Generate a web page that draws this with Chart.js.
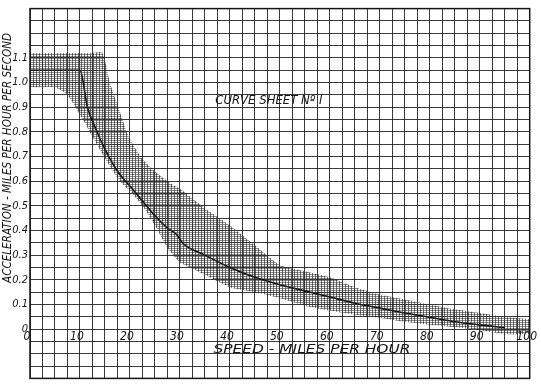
<!DOCTYPE html>
<html>
<head>
<meta charset="utf-8">
<script src="https://cdn.jsdelivr.net/npm/chart.js@4"></script>
<style>
  html, body { margin: 0; padding: 0; background: #fff; }
  #wrap { width: 541px; height: 387px; }
</style>
</head>
<body>
<div id="wrap"><canvas id="curveSheet" width="541" height="387"></canvas></div>
<script>
/* Curve sheet No. I - acceleration vs speed */

// main curve
const curveSpeed = [0, 10, 11.5, 13, 15, 17.5, 20, 22.5, 25, 27.5, 29.5, 30.5, 35, 40, 45, 50, 55, 60, 65, 70, 75, 80, 85, 90, 95];
const curveAccel = [1.05, 1.05, 0.9, 0.82, 0.73, 0.64, 0.58, 0.52, 0.46, 0.41, 0.38, 0.35, 0.3, 0.25, 0.21, 0.18, 0.155, 0.13, 0.105, 0.085, 0.065, 0.048, 0.03, 0.017, 0.006];

// hatched band around the curve
const bandSpeed = [0, 5, 7.5, 10, 12.5, 14.5, 16, 18, 20, 22.5, 25, 27.5, 29.5, 30, 35, 40, 45, 50, 55, 60, 65, 70, 75, 80, 85, 90, 95, 100];
const bandUpper = [1.12, 1.12, 1.12, 1.12, 1.12, 1.12, 1.0, 0.88, 0.77, 0.69, 0.64, 0.6, 0.575, 0.57, 0.49, 0.42, 0.34, 0.26, 0.235, 0.21, 0.17, 0.14, 0.12, 0.1, 0.08, 0.065, 0.05, 0.04];
const bandLower = [0.98, 0.98, 0.95, 0.87, 0.78, 0.71, 0.66, 0.6, 0.56, 0.5, 0.42, 0.33, 0.28, 0.27, 0.22, 0.17, 0.15, 0.125, 0.095, 0.075, 0.058, 0.045, 0.03, 0.018, 0.008, -0.005, -0.02, -0.02];

// tick labels
const speedTicks = [0, 10, 20, 30, 40, 50, 60, 70, 80, 90, 100];
const accelTicks = [0, 0.1, 0.2, 0.3, 0.4, 0.5, 0.6, 0.7, 0.8, 0.9, 1.0, 1.1];

const LETTER_FONT = '"Liberation Sans Narrow", "DejaVu Sans Condensed", sans-serif';
const INK = '#161616';

function toPoints(xs, ys) {
  return xs.map((x, i) => ({ x: x, y: ys[i] }));
}

// cross hatch pattern for the band
function makeHatch() {
  const c = document.createElement('canvas');
  c.width = 3;
  c.height = 2;
  const g = c.getContext('2d');
  g.fillStyle = 'rgba(50,50,50,0.7)';
  g.fillRect(0, 0, 1, 2);
  g.fillStyle = 'rgba(50,50,50,0.55)';
  g.fillRect(0, 0, 3, 1);
  return g.createPattern(c, 'repeat');
}

const ctx = document.getElementById('curveSheet').getContext('2d');
const hatch = makeHatch();

// hand lettering on the sheet
const letteringPlugin = {
  id: 'lettering',
  afterDraw(chart) {
    const c = chart.ctx;
    const area = chart.chartArea;
    const xs = chart.scales.x;
    const ys = chart.scales.y;

    c.save();
    c.fillStyle = INK;
    c.textBaseline = 'middle';
    c.textAlign = 'center';

    // sheet title
    c.font = 'italic 13px ' + LETTER_FONT;
    const title = 'CURVE SHEET N\u00BA I';
    c.fillText(title, xs.getPixelForValue(47.8), ys.getPixelForValue(0.928));

    // x axis title
    const xTitle = 'SPEED - MILES PER HOUR';
    const xw = c.measureText(xTitle).width;
    c.save();
    c.translate(312, ys.getPixelForValue(-0.085));
    c.scale(197 / xw, 1);
    c.fillText(xTitle, 0, 0);
    c.restore();

    // y axis title
    c.font = 'italic 12px ' + LETTER_FONT;
    const yTitle = 'ACCELERATION - MILES PER HOUR PER SECOND';
    const yw = c.measureText(yTitle).width;
    c.save();
    c.translate(8, 158);
    c.rotate(-Math.PI / 2);
    c.scale(250 / yw, 1);
    c.fillText(yTitle, 0, 0);
    c.restore();

    // heavier frame
    c.strokeStyle = INK;
    c.lineWidth = 1.5;
    c.strokeRect(area.left, area.top, area.right - area.left, area.bottom - area.top);
    c.restore();
  }
};

const chartData = {
  datasets: [
    {
      label: 'band upper',
      data: toPoints(bandSpeed, bandUpper),
      borderWidth: 0,
      pointRadius: 0,
      backgroundColor: hatch,
      fill: '+1',
      tension: 0.2
    },
    {
      label: 'band lower',
      data: toPoints(bandSpeed, bandLower),
      borderWidth: 0,
      pointRadius: 0,
      fill: false,
      tension: 0.2
    },
    {
      label: 'acceleration',
      data: toPoints(curveSpeed, curveAccel),
      borderColor: '#000',
      borderWidth: 1.6,
      pointRadius: 0,
      fill: false,
      cubicInterpolationMode: 'monotone'
    }
  ]
};

const options = {
  responsive: false,
  animation: false,
  layout: { padding: { left: 0, top: 7, right: 10, bottom: 6 } },
  plugins: {
    legend: { display: false },
    tooltip: { enabled: false }
  },
  scales: {
    x: {
      type: 'linear',
      position: { y: 0 },
      min: 0,
      max: 100,
      grid: { color: 'rgba(25,25,25,0.85)', lineWidth: 1, drawTicks: false },
      border: { display: false },
      ticks: {
        stepSize: 2.5,
        autoSkip: false,
        maxRotation: 0,
        padding: 1,
        labelOffset: -3,
        color: INK,
        font: { family: LETTER_FONT, size: 12, style: 'italic' },
        callback: (value) => {
          const hit = speedTicks.find(t => Math.abs(t - value) < 1e-6);
          return hit === undefined ? '' : String(hit);
        }
      }
    },
    y: {
      type: 'linear',
      min: -0.2,
      max: 1.3,
      grid: { color: 'rgba(25,25,25,0.85)', lineWidth: 1, drawTicks: false },
      border: { display: false },
      afterFit(scale) { scale.width = 30; },
      ticks: {
        stepSize: 0.05,
        autoSkip: false,
        padding: 2,
        color: INK,
        font: { family: LETTER_FONT, size: 11, style: 'italic' },
        callback: (value) => {
          const hit = accelTicks.find(t => Math.abs(t - value) < 1e-6);
          if (hit === undefined) return '';
          return hit === 0 ? '0' : hit.toFixed(1);
        }
      }
    }
  }
};

new Chart(ctx, {
  type: 'line',
  data: chartData,
  options: options,
  plugins: [letteringPlugin]
});
</script>
</body>
</html>
